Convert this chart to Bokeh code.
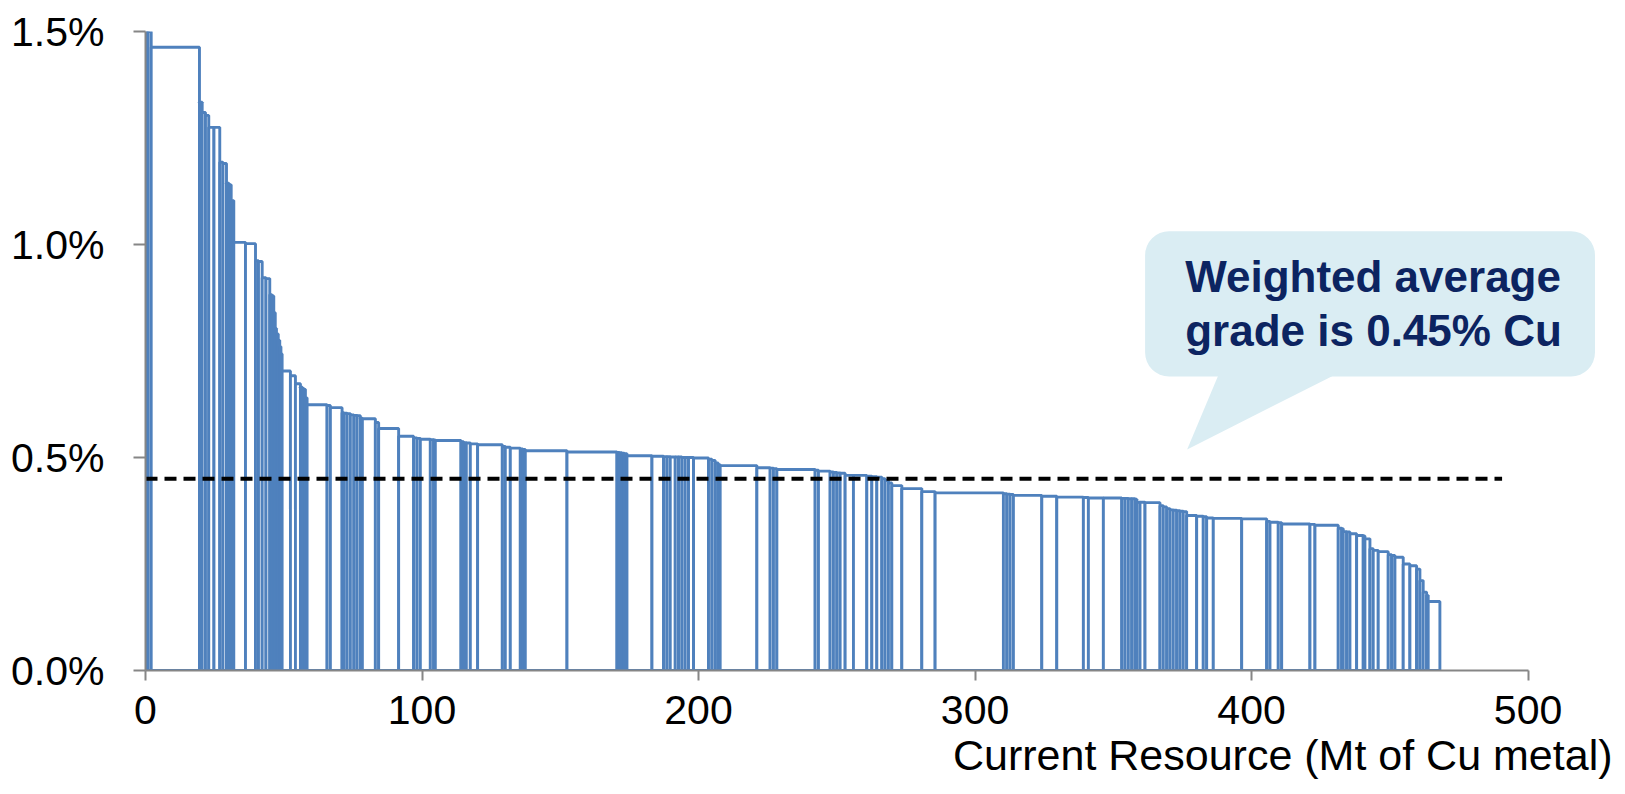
import numpy as np
from bokeh.plotting import figure
from bokeh.models import (FixedTicker, PrintfTickFormatter, Label, BoxAnnotation,
                          ColumnDataSource, Title)
from bokeh.embed import file_html
from bokeh.resources import INLINE

# ---- data: each deposit = (resource width in Mt Cu, grade in % Cu), sorted by grade
resource_mt = [
    0.90, 1.16, 17.46, 0.98, 1.19, 1.19, 1.88, 2.10, 1.16, 1.27,
    0.90, 0.80, 0.94, 4.23, 3.62, 1.08, 1.34, 1.37, 1.37, 0.80,
    0.65, 0.54, 0.43, 0.65, 0.54, 0.43, 0.43, 3.00, 1.81, 1.81,
    0.72, 0.54, 0.54, 0.61, 7.23, 1.19, 4.23, 0.65, 1.16, 1.19,
    1.27, 1.16, 1.19, 0.72, 4.70, 1.19, 7.23, 5.42, 1.23, 1.19,
    3.62, 1.19, 0.61, 9.29, 0.94, 0.98, 1.45, 2.64, 8.93, 1.08,
    1.81, 3.62, 0.90, 0.90, 15.08, 18.08, 0.83, 0.90, 0.90, 0.98,
    9.04, 4.19, 1.23, 1.19, 1.81, 1.19, 1.23, 1.19, 1.19, 1.81,
    5.42, 1.23, 1.19, 1.08, 0.72, 13.27, 4.81, 1.19, 1.23, 13.85,
    1.19, 4.23, 1.19, 1.23, 1.19, 1.81, 3.00, 4.84, 1.81, 1.81,
    1.81, 1.19, 1.19, 1.23, 3.62, 7.23, 4.81, 24.70, 1.23, 1.19,
    1.19, 10.27, 5.42, 9.62, 1.81, 5.42, 6.65, 1.19, 1.19, 1.23,
    1.19, 0.61, 1.19, 1.81, 5.42, 1.19, 1.23, 1.19, 1.19, 1.23,
    1.19, 1.19, 1.23, 3.62, 2.39, 1.23, 2.39, 10.27, 9.04, 1.19,
    3.00, 1.23, 10.23, 1.81, 8.42, 1.23, 0.58, 1.23, 1.19, 2.42,
    2.39, 0.61, 1.81, 1.19, 1.81, 3.62, 1.23, 1.19, 3.00, 2.42,
    2.42, 1.19, 1.19, 1.23, 0.58, 4.23,
]
grade_pct = [
    1.600, 1.500, 1.463, 1.334, 1.310, 1.303, 1.275, 1.275, 1.193, 1.190,
    1.144, 1.140, 1.103, 1.005, 1.002, 0.962, 0.960, 0.922, 0.920, 0.882,
    0.879, 0.840, 0.803, 0.790, 0.775, 0.760, 0.743, 0.703, 0.692, 0.673,
    0.665, 0.662, 0.660, 0.640, 0.624, 0.622, 0.617, 0.605, 0.604, 0.603,
    0.600, 0.599, 0.598, 0.592, 0.591, 0.582, 0.568, 0.550, 0.546, 0.545,
    0.543, 0.542, 0.541, 0.540, 0.537, 0.535, 0.534, 0.532, 0.530, 0.526,
    0.524, 0.522, 0.520, 0.519, 0.516, 0.513, 0.512, 0.511, 0.510, 0.509,
    0.504, 0.503, 0.502, 0.502, 0.501, 0.501, 0.501, 0.500, 0.500, 0.500,
    0.499, 0.496, 0.493, 0.487, 0.483, 0.481, 0.476, 0.475, 0.474, 0.472,
    0.470, 0.468, 0.466, 0.465, 0.464, 0.463, 0.458, 0.458, 0.456, 0.455,
    0.454, 0.450, 0.446, 0.440, 0.434, 0.427, 0.420, 0.417, 0.415, 0.414,
    0.413, 0.411, 0.409, 0.407, 0.406, 0.405, 0.405, 0.404, 0.404, 0.403,
    0.403, 0.402, 0.395, 0.395, 0.394, 0.387, 0.384, 0.380, 0.377, 0.376,
    0.375, 0.374, 0.373, 0.364, 0.362, 0.361, 0.358, 0.357, 0.356, 0.350,
    0.348, 0.347, 0.344, 0.343, 0.341, 0.334, 0.333, 0.326, 0.325, 0.321,
    0.317, 0.316, 0.309, 0.286, 0.282, 0.279, 0.272, 0.270, 0.266, 0.250,
    0.246, 0.238, 0.211, 0.184, 0.176, 0.162,
]
weighted_avg_grade = 0.45
avg_line_end_mt = 490.6
x_ticks = [0, 100, 200, 300, 400, 500]
y_ticks = [0.0, 0.5, 1.0, 1.5]
callout_lines = ["Weighted average", "grade is 0.45% Cu"]
x_label = "Current Resource (Mt of Cu metal)"

# ---- derived bar geometry
w = np.array(resource_mt)
right = np.cumsum(w)
left = right - w
src = ColumnDataSource(dict(left=left, right=right, top=np.array(grade_pct),
                            bottom=np.zeros(len(w))))

FONT = "Liberation Sans"
BLUE = "#4f81bd"
AXIS_GREY = "#868686"

p = figure(width=1617, height=786, x_range=(0, 528), y_range=(0, 1.5),
           output_backend="svg", toolbar_location=None,
           min_border_left=145, min_border_right=12,
           min_border_top=31, min_border_bottom=116)
p.outline_line_color = None
p.xgrid.visible = False
p.ygrid.visible = False
p.background_fill_color = "white"

p.quad(left="left", right="right", top="top", bottom="bottom", source=src,
       fill_color="white", line_color=BLUE, line_width=2.9)

# weighted average dashed line
p.line([0, avg_line_end_mt], [weighted_avg_grade, weighted_avg_grade],
       line_color="black", line_width=4, line_dash="12 7")

# axes
for ax in (p.xaxis[0], p.yaxis[0]):
    ax.axis_line_color = AXIS_GREY
    ax.axis_line_width = 2
    ax.major_tick_line_color = AXIS_GREY
    ax.major_tick_line_width = 2
    ax.major_tick_in = 0
    ax.minor_tick_line_color = None
    ax.major_label_text_font = FONT
    ax.major_label_text_font_size = "41px"
    ax.major_label_text_color = "black"

p.xaxis[0].ticker = FixedTicker(ticks=x_ticks)
p.xaxis[0].bounds = (0, 500)
p.xaxis[0].major_tick_out = 10
p.xaxis[0].major_label_standoff = 15

p.yaxis[0].ticker = FixedTicker(ticks=y_ticks)
p.yaxis[0].formatter = PrintfTickFormatter(format="%.1f%%")
p.yaxis[0].major_tick_out = 12
p.yaxis[0].major_label_standoff = 29

# x axis title, right aligned below the axis
p.add_layout(Title(text=x_label, align="right", offset=-7, standoff=4,
                   text_font=FONT, text_font_size="43px",
                   text_font_style="normal", text_color="black"), "below")

# callout
CALLOUT_FILL = "#daedf3"
p.add_layout(BoxAnnotation(left=361.5, right=524.2, bottom=0.690, top=1.031,
                           fill_color=CALLOUT_FILL, fill_alpha=1.0,
                           line_color=None, border_radius=24))
p.patch([387.9, 376.7, 429.5], [0.692, 0.519, 0.692],
        fill_color=CALLOUT_FILL, line_color=None)
for txt, yb in zip(callout_lines, [0.925, 0.798]):
    p.add_layout(Label(x=376.0, y=yb, text=txt, text_align="left",
                       text_baseline="alphabetic", text_font=FONT,
                       text_font_size="44px", text_font_style="bold",
                       text_color="#0c2461"))

open("out.html", "w").write(file_html(p, INLINE))
